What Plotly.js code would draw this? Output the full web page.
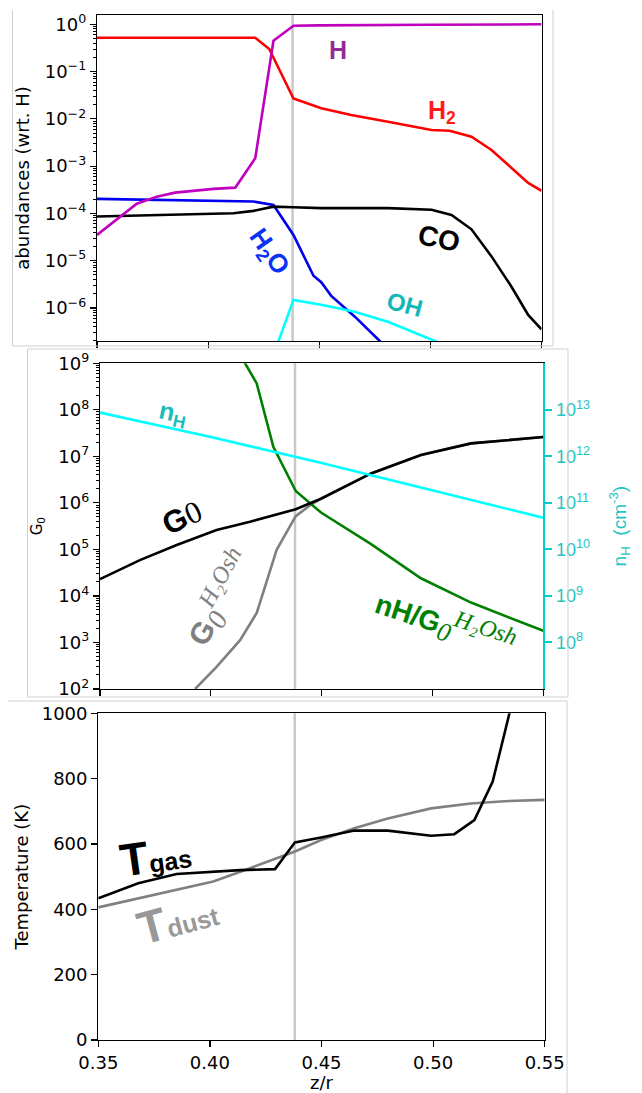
<!DOCTYPE html>
<html><head><meta charset="utf-8">
<script src="https://cdn.plot.ly/plotly-3.0.1.min.js"></script>
<style>body{margin:0;padding:0;background:#fff}#plot{width:642px;height:1093px}</style>
</head><body><div id="plot"></div>
<script>
// ---------- data ----------
const vline = 0.438;
// top panel: abundances
const zH2 = [0.35, 0.4212, 0.4275, 0.4384, 0.4509, 0.4644, 0.4809, 0.5005, 0.5087, 0.5185, 0.5275, 0.5365, 0.5440, 0.55];
const H2  = [0.52, 0.52, 0.30, 0.027, 0.0168, 0.0121, 0.0087, 0.0058, 0.0056, 0.0042, 0.0022, 0.0009, 0.00044, 0.0003];
const zH  = [0.35, 0.3589, 0.3679, 0.3769, 0.3851, 0.4024, 0.4122, 0.4212, 0.4294, 0.4384, 0.45, 0.50, 0.55];
const H   = [3.5e-5, 7.3e-5, 1.6e-4, 2.26e-4, 2.75e-4, 3.3e-4, 3.5e-4, 1.47e-3, 0.45, 0.93, 0.95, 0.98, 1.0];
const zH2O = [0.35, 0.3814, 0.4114, 0.4204, 0.4294, 0.4384, 0.4474, 0.4509, 0.4554, 0.4659, 0.4772, 0.482];
const H2O  = [2.03e-4, 1.93e-4, 1.84e-4, 1.78e-4, 1.51e-4, 3.5e-5, 4.8e-6, 3.5e-6, 1.8e-6, 6.6e-7, 2.0e-7, 1.1e-7];
const zCO = [0.35, 0.38, 0.4114, 0.4204, 0.4294, 0.4384, 0.4509, 0.4809, 0.5005, 0.5095, 0.5185, 0.5275, 0.5365, 0.5440, 0.55];
const CO  = [8.6e-5, 9.3e-5, 1.01e-4, 1.13e-4, 1.39e-4, 1.35e-4, 1.29e-4, 1.29e-4, 1.19e-4, 9.3e-5, 4.6e-5, 1.23e-5, 2.8e-6, 7.1e-7, 3.5e-7];
const zOH = [0.4300, 0.4384, 0.4509, 0.4659, 0.4809, 0.4929, 0.5020, 0.512];
const OH  = [1.2e-7, 1.48e-6, 1.17e-6, 8.3e-7, 5.1e-7, 2.95e-7, 2.0e-7, 1.2e-7];
// middle panel
const zG0 = [0.35, 0.368, 0.3846, 0.4026, 0.4177, 0.4383, 0.4497, 0.4723, 0.4948, 0.5174, 0.55];
const G0  = [2.3e4, 5.9e4, 1.24e5, 2.61e5, 3.94e5, 7.3e5, 1.23e6, 4.3e6, 1.07e7, 1.9e7, 2.6e7];
const zG0sh = [0.3929, 0.4026, 0.4132, 0.4207, 0.4297, 0.4383, 0.4448, 0.4497, 0.4723, 0.4948, 0.5174, 0.55];
const G0sh  = [1.0e2, 3.0e2, 1.12e3, 4.3e3, 9.8e4, 5.2e5, 8.9e5, 1.23e6, 4.3e6, 1.07e7, 1.9e7, 2.6e7];
const zRatio = [0.410, 0.4154, 0.4207, 0.4282, 0.4383, 0.4497, 0.4610, 0.4723, 0.4948, 0.5174, 0.55];
const ratio  = [2.8e9, 1.0e9, 3.7e8, 1.6e7, 1.8e6, 6.2e5, 2.9e5, 1.3e5, 2.4e4, 7.2e3, 1.78e3];
const znH = [0.35, 0.40, 0.45, 0.50, 0.55];
const nH  = [8.7e12, 2.6e12, 7.2e11, 1.86e11, 4.8e10];
// bottom panel
const zTgas = [0.35, 0.3679, 0.3851, 0.4030, 0.4135, 0.4292, 0.4381, 0.4498, 0.4647, 0.4797, 0.4991, 0.5095, 0.5185, 0.5267, 0.5342, 0.540];
const Tgas  = [434, 480, 508, 515, 520, 523, 605, 620, 641, 641, 625, 630, 673, 791, 1000, 1220];
const zTdust = [0.35, 0.3747, 0.4015, 0.4180, 0.4384, 0.4498, 0.4647, 0.4797, 0.4991, 0.5169, 0.5319, 0.55];
const Tdust  = [406, 444, 485, 526, 578, 612, 648, 678, 709, 724, 731, 735];
// tick labels
const xTicks = [0.35, 0.40, 0.45, 0.50, 0.55];
const xTickText = ['0.35', '0.40', '0.45', '0.50', '0.55'];
const abTicks = [1e-6, 1e-5, 1e-4, 1e-3, 1e-2, 1e-1, 1];
const abTickText = ['10<sup>−6</sup>', '10<sup>−5</sup>', '10<sup>−4</sup>', '10<sup>−3</sup>', '10<sup>−2</sup>', '10<sup>−1</sup>', '10<sup>0</sup>'];
const g0Ticks = [1e2, 1e3, 1e4, 1e5, 1e6, 1e7, 1e8, 1e9];
const g0TickText = ['10<sup>2</sup>', '10<sup>3</sup>', '10<sup>4</sup>', '10<sup>5</sup>', '10<sup>6</sup>', '10<sup>7</sup>', '10<sup>8</sup>', '10<sup>9</sup>'];
const nTicks = [1e8, 1e9, 1e10, 1e11, 1e12, 1e13];
const nTickText = ['10<sup>8</sup>', '10<sup>9</sup>', '10<sup>10</sup>', '10<sup>11</sup>', '10<sup>12</sup>', '10<sup>13</sup>'];

// minor tick positions (2..9 in every decade)
function minorVals(e0, e1) {
  const v = [];
  for (let e = e0; e <= e1; e++) for (let m = 2; m <= 9; m++) v.push(m * Math.pow(10, e));
  return v;
}

// ---------- figure ----------
const W = 642, Hh = 1093;
const px = p => p / W, py = p => 1 - p / Hh;
const LW = 2.6;
const DJ = 'DejaVu Sans';
const AR = 'Liberation Sans, Arial';
const SER = 'Liberation Serif';

function tr(x, y, c, xa, ya, w) {
  return {x: x, y: y, xaxis: xa, yaxis: ya, mode: 'lines', line: {color: c, width: w || LW}, hoverinfo: 'skip', showlegend: false};
}
const data = [
  tr(zH2O, H2O, '#0000ee', 'x', 'y'),
  tr(zOH, OH, '#00ffff', 'x', 'y'),
  tr(zCO, CO, '#000000', 'x', 'y'),
  tr(zH2, H2, '#ff0000', 'x', 'y'),
  tr(zH, H, '#bf00bf', 'x', 'y'),
  tr(znH, nH, '#00ffff', 'x2', 'y4'),
  tr(zG0sh, G0sh, '#808080', 'x2', 'y2'),
  tr(zRatio, ratio, '#008000', 'x2', 'y2'),
  tr(zG0, G0, '#000000', 'x2', 'y2'),
  tr(zTdust, Tdust, '#808080', 'x3', 'y3'),
  tr(zTgas, Tgas, '#000000', 'x3', 'y3')
];

const baseX = {
  range: [0.35, 0.55], tickmode: 'array', tickvals: xTicks, ticktext: xTickText,
  ticks: 'outside', ticklen: 6, tickwidth: 1.2, tickcolor: '#000',
  showline: true, linecolor: '#000', linewidth: 1.2, mirror: true,
  showgrid: false, zeroline: false, tickfont: {family: DJ, size: 18, color: '#000'}
};
const baseY = {
  ticks: 'outside', ticklen: 6, tickwidth: 1.2, tickcolor: '#000',
  showline: true, linecolor: '#000', linewidth: 1.2, mirror: true,
  showgrid: false, zeroline: false, tickfont: {family: DJ, size: 18, color: '#000'},
  automargin: false
};
function minorLog(e0, e1) {
  return {tickmode: 'array', tickvals: minorVals(e0, e1), ticks: 'outside', ticklen: 3, tickwidth: 1, tickcolor: '#000', showgrid: false};
}

const layout = {
  width: W, height: Hh, margin: {l: 0, r: 0, t: 0, b: 0},
  paper_bgcolor: '#fff', plot_bgcolor: '#fff', showlegend: false,
  xaxis: Object.assign({}, baseX, {domain: [px(97), px(541.5)], anchor: 'y', showticklabels: false}),
  yaxis: Object.assign({}, baseY, {domain: [py(341), py(15)], anchor: 'x', type: 'log', range: [-6.70, 0.197],
    tickmode: 'array', tickvals: abTicks, ticktext: abTickText, minor: minorLog(-7, 0),
    title: {text: 'abundances (wrt. H)', font: {family: DJ, size: 18, color: '#000'}, standoff: 10}}),
  xaxis2: Object.assign({}, baseX, {domain: [px(100), px(543.3)], anchor: 'y2', showticklabels: false}),
  yaxis2: Object.assign({}, baseY, {domain: [py(689), py(363.3)], anchor: 'x2', type: 'log', range: [2, 9], mirror: false,
    tickmode: 'array', tickvals: g0Ticks, ticktext: g0TickText, minor: minorLog(2, 8),
    title: {text: 'G<sub>0</sub>', font: {family: DJ, size: 15, color: '#000'}, standoff: 12}}),
  yaxis4: Object.assign({}, baseY, {overlaying: 'y2', side: 'right', anchor: 'x2', type: 'log', range: [7, 14], mirror: false,
    linecolor: '#00cccc', linewidth: 2, tickcolor: '#00cccc', tickwidth: 2, ticklen: 7,
    tickmode: 'array', tickvals: nTicks, ticktext: nTickText,
    tickfont: {family: AR, size: 18, color: '#22c4c4'},
    title: {text: 'n<sub>H</sub>  (cm<sup>-3</sup>)', font: {family: AR, size: 19, color: '#22c4c4'}, standoff: 24}}),
  xaxis3: Object.assign({}, baseX, {domain: [px(98.3), px(544.7)], anchor: 'y3',
    title: {text: 'z/r', font: {family: DJ, size: 18, color: '#000'}, standoff: 6}}),
  yaxis3: Object.assign({}, baseY, {domain: [py(1040), py(713.3)], anchor: 'x3', range: [0, 1000], dtick: 200,
    title: {text: 'Temperature (K)', font: {family: DJ, size: 18, color: '#000'}, standoff: 8}}),
  shapes: [
    {type: 'line', xref: 'x', yref: 'y domain', x0: vline, x1: vline, y0: 0, y1: 1, line: {color: '#c8c8c8', width: 2.5}, layer: 'below'},
    {type: 'line', xref: 'x2', yref: 'y2 domain', x0: vline, x1: vline, y0: 0, y1: 1, line: {color: '#c8c8c8', width: 2.5}, layer: 'below'},
    {type: 'line', xref: 'x3', yref: 'y3 domain', x0: vline, x1: vline, y0: 0, y1: 1, line: {color: '#c8c8c8', width: 2.5}, layer: 'below'},
    // panel frames
    {type: 'path', xref: 'paper', yref: 'paper', path: `M ${px(12.5)} ${py(10)} L ${px(12.5)} ${py(346)} L ${px(553)} ${py(346)} L ${px(553)} ${py(10)}`, line: {color: '#d0d0d0', width: 1}},
    {type: 'rect', xref: 'paper', yref: 'paper', x0: px(27.5), x1: px(568), y0: py(697), y1: py(349), line: {color: '#d0d0d0', width: 1}},
    {type: 'path', xref: 'paper', yref: 'paper', path: `M ${px(8)} ${py(701)} L ${px(567)} ${py(701)} L ${px(567)} ${py(1093)}`, line: {color: '#d0d0d0', width: 1}}
  ],
  annotations: [
    {text: '<b>H</b>', x: px(338), y: py(50), font: {family: AR, size: 25, color: '#922b92'}},
    {text: '<b>H<sub>2</sub></b>', x: px(442), y: py(112), font: {family: AR, size: 25, color: '#ff1a1a'}},
    {text: '<b>CO</b>', x: px(439), y: py(238), textangle: 12, font: {family: AR, size: 28, color: '#000'}},
    {text: '<b>H<sub>2</sub>O</b>', x: px(268), y: py(252), textangle: 55, font: {family: AR, size: 26, color: '#0a32f5'}},
    {text: '<b>OH</b>', x: px(405), y: py(304), textangle: 15, font: {family: AR, size: 24, color: '#12b8b8'}},
    {text: '<b>n<sub>H</sub></b>', x: px(173), y: py(414), textangle: 12, font: {family: AR, size: 25, color: '#1cbcbc'}},
    {text: `<b>G</b><span style="font-family:${SER}">0</span>`, x: px(182), y: py(517), textangle: -25, font: {family: AR, size: 31, color: '#000'}},
    {text: `<b>G</b><span style="font-family:${SER}"><sub><i><span style="font-size:28px">0</span></i></sub><sup><i><span style="font-size:24px">H₂Osh</span></i></sup></span>`,
      x: px(220), y: py(598), textangle: -62, font: {family: AR, size: 30, color: '#808080'}},
    {text: `<b>nH/G</b><span style="font-family:${SER}"><sub><i><span style="font-size:26px">0</span></i></sub><sup><i><span style="font-size:24px">H₂Osh</span></i></sup></span>`,
      x: px(445), y: py(624), textangle: 18, font: {family: AR, size: 28, color: '#008000'}},
    {text: '<b><span style="font-size:46px">T</span><span style="font-size:25px">gas</span></b>', x: px(155), y: py(856), textangle: -8, font: {family: AR, size: 25, color: '#000'}},
    {text: '<b><span style="font-size:46px">T</span><span style="font-size:25px">dust</span></b>', x: px(178), y: py(919), textangle: -15, font: {family: AR, size: 25, color: '#999999'}}
  ].map(a => Object.assign({xref: 'paper', yref: 'paper', showarrow: false, xanchor: 'center', yanchor: 'middle'}, a))
};

Plotly.newPlot('plot', data, layout, {staticPlot: true});
</script>
</body></html>
